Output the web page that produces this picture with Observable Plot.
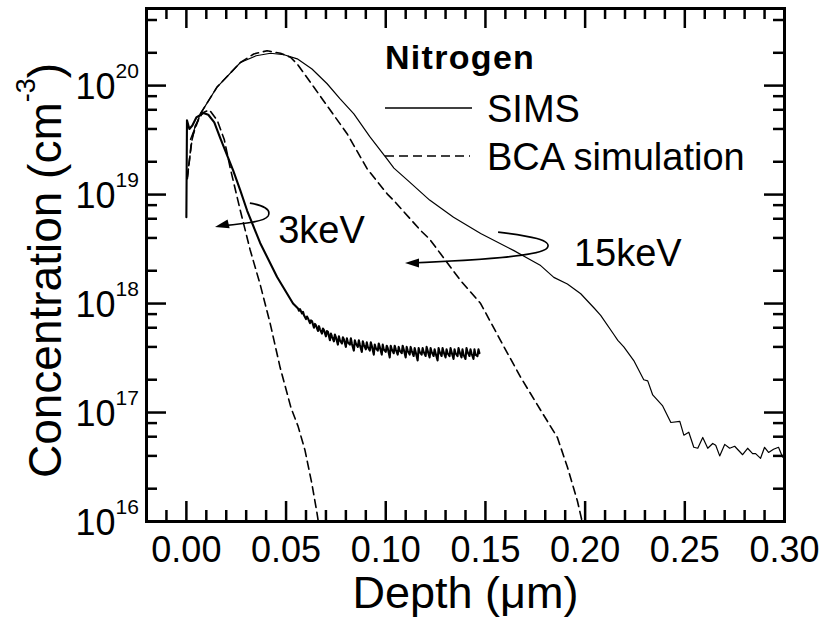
<!DOCTYPE html>
<html>
<head>
<meta charset="utf-8">
<script src="https://cdn.jsdelivr.net/npm/d3@7"></script>
<script src="https://cdn.jsdelivr.net/npm/@observablehq/plot@0.6"></script>
<style>
  html, body { margin: 0; padding: 0; background: #fff; }
  #chart svg { display: block; }
</style>
</head>
<body>
<div id="chart"></div>
<script>
// Nitrogen depth profiles: SIMS measurements vs BCA simulation, 3 keV and 15 keV implants.
// Each series is [depth (µm), concentration (cm^-3)].

const sims15keV = [
  [0.002, 3.2e19], [0.007, 5.5e19], [0.0154, 9.7e19], [0.0271, 1.63e20], [0.035, 1.88e20],
  [0.0422, 1.98e20], [0.049, 1.92e20], [0.0556, 1.76e20], [0.063, 1.42e20], [0.0706, 1.04e20],
  [0.077, 7.6e19], [0.084, 5.5e19], [0.092, 3.4e19], [0.1008, 2.1e19], [0.1041, 1.75e19],
  [0.112, 1.3e19], [0.122, 8.9e18], [0.134, 6.2e18], [0.1476, 4.4e18], [0.1643, 3.06e18],
  [0.1777, 2.23e18], [0.1843, 1.74e18], [0.1911, 1.51e18], [0.1978, 1.23e18], [0.2045, 9.1e17],
  [0.2078, 7.8e17], [0.2144, 5.2e17], [0.2164, 4.6e17], [0.2194, 4.0e17], [0.2244, 3.0e17],
  [0.2294, 2.0e17], [0.2314, 1.95e17], [0.2339, 1.45e17], [0.2389, 1.15e17], [0.243, 8.1e16],
  [0.2475, 8.3e16], [0.2495, 6.2e16], [0.252, 6.6e16], [0.2545, 4.8e16], [0.2565, 4.7e16],
  [0.259, 5.9e16], [0.2615, 4.7e16], [0.264, 5.2e16], [0.2655, 5.0e16], [0.2675, 4.0e16],
  [0.27, 5.1e16], [0.2725, 4.7e16], [0.275, 4.9e16], [0.279, 4.1e16], [0.2815, 4.7e16],
  [0.284, 4.2e16], [0.2855, 4.2e16], [0.288, 3.8e16], [0.29, 4.8e16], [0.292, 4.3e16],
  [0.2945, 4.6e16], [0.297, 4.8e16], [0.299, 3.9e16], [0.3, 4.0e16]
];

const bca15keV = [
  [0.0005, 1.45e19], [0.003, 3.4e19], [0.007, 5.5e19], [0.0154, 9.7e19], [0.0271, 1.63e20],
  [0.0338, 1.95e20], [0.0405, 2.09e20], [0.0472, 1.98e20], [0.0522, 1.82e20], [0.0556, 1.58e20],
  [0.0639, 9.7e19], [0.0723, 5.9e19], [0.0807, 3.6e19], [0.0907, 1.72e19], [0.1008, 1.01e19],
  [0.1041, 8.8e18], [0.1175, 4.68e18], [0.122, 3.9e18], [0.1275, 2.86e18], [0.1376, 1.62e18],
  [0.1476, 1.0e18], [0.1576, 4.57e17], [0.1677, 2.1e17], [0.1777, 1.05e17], [0.1861, 5.9e16],
  [0.1911, 3.16e16], [0.1961, 1.55e16], [0.1985, 1.0e16], [0.2, 8e15]
];

const sims3keV = [
  [0.0, 6.2e18], [0.0003, 4.8e19], [0.0015, 4.0e19], [0.003, 4.3e19], [0.005, 5.1e19],
  [0.0085, 5.6e19], [0.011, 5.4e19], [0.014, 4.6e19], [0.017, 3.3e19], [0.0235, 1.66e19],
  [0.027, 1.1e19], [0.0305, 7.1e18], [0.037, 3.6e18], [0.0455, 1.75e18], [0.0535, 1.0e18],
  [0.056, 9.0e17], [0.0565, 8.6e17], [0.057, 8.9e17], [0.058, 8.1e17], [0.0585, 8.4e17],
  [0.059, 7.8e17], [0.060, 7.2e17], [0.0605, 7.6e17], [0.061, 7.3e17], [0.062, 6.6e17],
  [0.0625, 7.0e17], [0.063, 6.9e17], [0.064, 6.0e17], [0.0645, 6.5e17], [0.065, 6.3e17],
  [0.066, 5.6e17], [0.0665, 6.2e17], [0.067, 5.8e17], [0.068, 5.3e17], [0.0685, 5.9e17],
  [0.069, 5.7e17], [0.070, 5.0e17], [0.0705, 5.6e17], [0.071, 5.5e17], [0.072, 4.6e17],
  [0.0725, 5.3e17], [0.073, 5.0e17], [0.074, 4.5e17], [0.0745, 5.2e17], [0.075, 4.9e17],
  [0.076, 4.2e17], [0.0765, 5.0e17], [0.077, 4.6e17], [0.078, 4.3e17], [0.0785, 4.9e17],
  [0.079, 4.7e17], [0.080, 4.0e17], [0.0805, 4.8e17], [0.081, 4.4e17], [0.082, 4.2e17],
  [0.0825, 4.8e17], [0.083, 4.3e17], [0.084, 3.7e17], [0.0845, 4.6e17], [0.085, 4.3e17],
  [0.086, 4.0e17], [0.0865, 4.6e17], [0.087, 4.2e17], [0.088, 3.6e17], [0.0885, 4.5e17],
  [0.089, 4.2e17], [0.090, 3.8e17], [0.0905, 4.4e17], [0.091, 4.0e17], [0.092, 3.7e17],
  [0.0925, 4.4e17], [0.093, 4.1e17], [0.094, 3.4e17], [0.0945, 4.2e17], [0.095, 3.9e17],
  [0.096, 3.7e17], [0.0965, 4.3e17], [0.097, 4.0e17], [0.098, 3.4e17], [0.0985, 4.2e17],
  [0.099, 3.8e17], [0.100, 3.6e17], [0.1005, 4.1e17], [0.101, 3.9e17], [0.102, 3.2e17],
  [0.1025, 4.1e17], [0.103, 3.8e17], [0.104, 3.5e17], [0.1045, 4.1e17], [0.105, 3.8e17],
  [0.106, 3.4e17], [0.1065, 4.0e17], [0.107, 3.7e17], [0.108, 3.5e17], [0.1085, 4.1e17],
  [0.109, 3.8e17], [0.110, 3.2e17], [0.1105, 4.0e17], [0.111, 3.7e17], [0.112, 3.4e17],
  [0.1125, 4.0e17], [0.113, 3.7e17], [0.114, 3.3e17], [0.1145, 3.9e17], [0.115, 3.6e17],
  [0.116, 3.0e17], [0.1165, 3.9e17], [0.117, 3.6e17], [0.118, 3.4e17], [0.1185, 3.9e17],
  [0.119, 3.6e17], [0.120, 3.3e17], [0.1205, 4.0e17], [0.121, 3.7e17], [0.122, 3.2e17],
  [0.1225, 3.9e17], [0.123, 3.6e17], [0.124, 3.3e17], [0.1245, 3.8e17], [0.125, 3.5e17],
  [0.126, 3.0e17], [0.1265, 3.9e17], [0.127, 3.6e17], [0.128, 3.3e17], [0.1285, 3.9e17],
  [0.129, 3.6e17], [0.130, 3.2e17], [0.1305, 3.8e17], [0.131, 3.5e17], [0.132, 3.3e17],
  [0.1325, 3.9e17], [0.133, 3.6e17], [0.134, 3.1e17], [0.1345, 3.8e17], [0.135, 3.5e17],
  [0.136, 3.3e17], [0.1365, 3.9e17], [0.137, 3.6e17], [0.138, 3.2e17], [0.1385, 3.8e17],
  [0.139, 3.4e17], [0.140, 3.1e17], [0.1405, 3.9e17], [0.141, 3.6e17], [0.142, 3.3e17],
  [0.1425, 3.8e17], [0.143, 3.5e17], [0.144, 3.1e17], [0.1445, 3.8e17], [0.145, 3.4e17],
  [0.146, 3.3e17], [0.1465, 3.8e17], [0.147, 3.5e17]
];

const bca3keV = [
  [0.0005, 1.4e19], [0.0025, 3.0e19], [0.0045, 4.3e19], [0.008, 5.6e19], [0.0115, 6.0e19],
  [0.0155, 4.8e19], [0.019, 3.2e19], [0.022, 1.75e19], [0.027, 7.2e18], [0.032, 3.1e18],
  [0.037, 1.5e18], [0.042, 6.6e17], [0.047, 2.6e17], [0.0525, 1.1e17], [0.056, 7.5e16],
  [0.0595, 4.5e16], [0.063, 2.2e16], [0.0655, 1.2e16], [0.067, 8e15]
];

// Axis ticks and labels
const xTickLabels = [0, 0.05, 0.10, 0.15, 0.20, 0.25, 0.30];
const xMinorTicks = [-0.01, 0.01, 0.02, 0.03, 0.04, 0.06, 0.07, 0.08, 0.09, 0.11, 0.12, 0.13, 0.14,
  0.16, 0.17, 0.18, 0.19, 0.21, 0.22, 0.23, 0.24, 0.26, 0.27, 0.28, 0.29];
const yExponents = [16, 17, 18, 19, 20];
const yMajorTicks = [1e16, 1e17, 1e18, 1e19, 1e20];
const yMinorTicks = [2e16, 4e16, 6e16, 8e16, 2e17, 4e17, 6e17, 8e17, 2e18, 4e18, 6e18, 8e18,
  2e19, 4e19, 6e19, 8e19, 2e20, 4e20];

// Energy labels and their curled pointer arrows (depth, concentration)
const energyLabels = [
  {text: "3keV", depth: 0.0678, conc: 4.68e18},
  {text: "15keV", depth: 0.2214, conc: 2.88e18}
];
const arrow3keV = [[0.0321, 8.26e18], [0.0382, 7.93e18], [0.0432, 7.28e18], [0.0412, 6.28e18],
  [0.0392, 5.53e18], [0.0271, 5.31e18], [0.0166, 5.08e18], [0.0146, 4.98e18]];
const arrow15keV = [[0.1566, 4.48e18], [0.1727, 4.12e18], [0.1842, 3.78e18], [0.1812, 3.20e18],
  [0.1782, 2.70e18], [0.1476, 2.48e18], [0.1124, 2.33e18], [0.1099, 2.33e18]];

const FONT = "'Liberation Sans', Arial, Helvetica, sans-serif";
const W = 826, H = 624;
const M = {top: 8, right: 42, bottom: 103, left: 146};
const innerW = W - M.left - M.right;
const innerH = H - M.top - M.bottom;
const MAJOR = 20, MINOR = 11, TICKW = 2.5;

const dash = "8,5";

const plot = Plot.plot({
  width: W,
  height: H,
  marginTop: M.top,
  marginRight: M.right,
  marginBottom: M.bottom,
  marginLeft: M.left,
  style: {fontFamily: FONT, background: "#fff", color: "#000"},
  x: {domain: [-0.02, 0.30], axis: null},
  y: {type: "log", domain: [1e16, 5.1e20], axis: null},
  marks: [
    // profiles
    Plot.line(bca15keV, {x: d => d[0], y: d => d[1], stroke: "#000", strokeWidth: 1.6, strokeDasharray: dash, clip: true}),
    Plot.line(bca3keV, {x: d => d[0], y: d => d[1], stroke: "#000", strokeWidth: 1.6, strokeDasharray: dash, clip: true}),
    Plot.line(sims15keV, {x: d => d[0], y: d => d[1], stroke: "#000", strokeWidth: 1.2, clip: true}),
    Plot.line(sims3keV, {x: d => d[0], y: d => d[1], stroke: "#000", strokeWidth: 2.1, clip: true}),

    // inward ticks, bottom and top
    Plot.ruleX(xTickLabels, {x: d => d, insetTop: innerH - MAJOR, strokeWidth: TICKW}),
    Plot.ruleX(xMinorTicks, {x: d => d, insetTop: innerH - MINOR, strokeWidth: TICKW}),
    Plot.ruleX(xTickLabels, {x: d => d, insetBottom: innerH - MAJOR, strokeWidth: TICKW}),
    Plot.ruleX(xMinorTicks, {x: d => d, insetBottom: innerH - MINOR, strokeWidth: TICKW}),
    // inward ticks, left and right
    Plot.ruleY(yMajorTicks, {y: d => d, insetRight: innerW - MAJOR, strokeWidth: TICKW}),
    Plot.ruleY(yMinorTicks, {y: d => d, insetRight: innerW - MINOR, strokeWidth: TICKW}),
    Plot.ruleY(yMajorTicks, {y: d => d, insetLeft: innerW - MAJOR, strokeWidth: TICKW}),
    Plot.ruleY(yMinorTicks, {y: d => d, insetLeft: innerW - MINOR, strokeWidth: TICKW}),

    Plot.frame({stroke: "#000", strokeWidth: 3}),

    // x tick labels
    Plot.text(xTickLabels, {x: d => d, text: d => d3.format(".2f")(d), frameAnchor: "bottom",
      lineAnchor: "top", dy: 15, fontSize: 36}),
    // y tick labels: 10 with a raised exponent
    Plot.text(yExponents, {y: e => 10 ** e, text: () => "10", frameAnchor: "left",
      textAnchor: "end", dx: -31, dy: 1.5, fontSize: 36}),
    Plot.text(yExponents, {y: e => 10 ** e, text: e => String(e), frameAnchor: "left",
      textAnchor: "start", dx: -31, dy: -14.7, fontSize: 21}),
    // x axis title
    Plot.text(["Depth (\u03bcm)"], {text: d => d, frameAnchor: "bottom", lineAnchor: "middle",
      dy: 72, fontSize: 45}),

    // energy annotations
    Plot.text(energyLabels, {x: "depth", y: "conc", text: "text", fontSize: 38})
  ]
});

document.getElementById("chart").appendChild(plot);

const svg = d3.select(plot);
const sx = plot.scale("x"), sy = plot.scale("y");

// curled pointer arrows
function drawArrow(points) {
  const p = points.map(([d, c]) => [sx.apply(d), sy.apply(c)]);
  const path = d3.path();
  path.moveTo(p[0][0], p[0][1]);
  path.bezierCurveTo(p[1][0], p[1][1], p[2][0], p[2][1], p[3][0], p[3][1]);
  path.bezierCurveTo(p[4][0], p[4][1], p[5][0], p[5][1], p[6][0], p[6][1]);
  svg.append("path").attr("d", path.toString()).attr("fill", "none")
    .attr("stroke", "#000").attr("stroke-width", 1.6);
  const tip = p[7], from = p[6];
  const ang = Math.atan2(tip[1] - from[1], tip[0] - from[0]);
  const len = 14, half = 4.5;
  const bx = tip[0] - len * Math.cos(ang), by = tip[1] - len * Math.sin(ang);
  const nx = -Math.sin(ang) * half, ny = Math.cos(ang) * half;
  svg.append("path")
    .attr("d", `M${tip[0]},${tip[1]}L${bx + nx},${by + ny}L${bx - nx},${by - ny}Z`)
    .attr("fill", "#000");
}
drawArrow(arrow3keV);
drawArrow(arrow15keV);

// legend
const lg = svg.append("g").attr("font-family", FONT).attr("fill", "#000").attr("text-anchor", "start");
lg.append("text").attr("x", 385).attr("y", 69).attr("font-size", 34)
  .attr("font-weight", "bold").attr("letter-spacing", 1.3).text("Nitrogen");
lg.append("line").attr("x1", 385).attr("x2", 472).attr("y1", 108).attr("y2", 108)
  .attr("stroke", "#000").attr("stroke-width", 1.3);
lg.append("text").attr("x", 487).attr("y", 122).attr("font-size", 38).text("SIMS");
lg.append("line").attr("x1", 385).attr("x2", 470).attr("y1", 156).attr("y2", 156)
  .attr("stroke", "#000").attr("stroke-width", 1.6).attr("stroke-dasharray", "9,5");
lg.append("text").attr("x", 487).attr("y", 170).attr("font-size", 38).text("BCA simulation");

// y axis title with superscript unit
const yt = svg.append("text")
  .attr("transform", `translate(61,${M.top + innerH / 2 + 6}) rotate(-90)`)
  .attr("text-anchor", "middle").attr("font-family", FONT).attr("font-size", 46).attr("fill", "#000");
yt.append("tspan").text("Concentration (cm");
yt.append("tspan").attr("dy", -26).attr("font-size", 27).text("-3");
yt.append("tspan").attr("dy", 26).text(")");
</script>
</body>
</html>
